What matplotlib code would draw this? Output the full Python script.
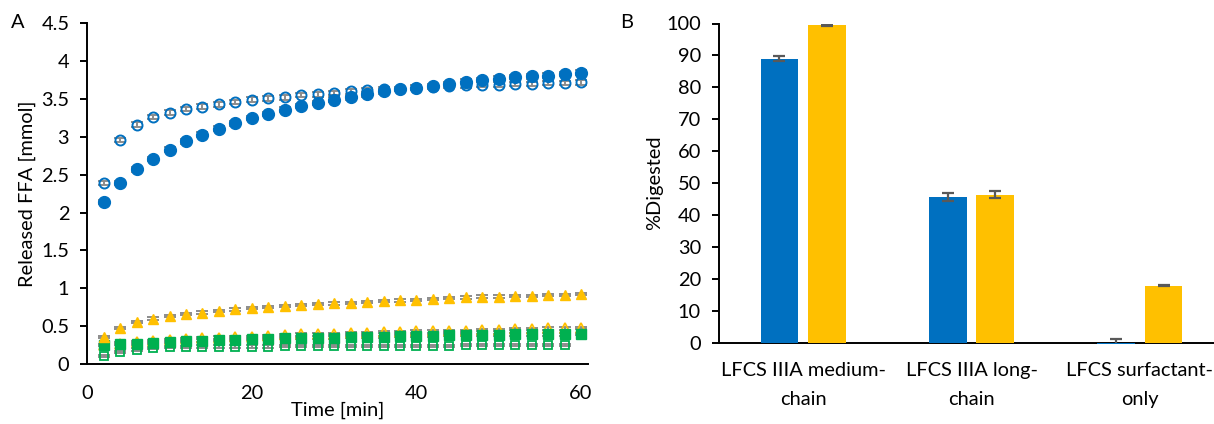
import numpy as np
import matplotlib
matplotlib.use('Agg')
import matplotlib.pyplot as plt

# ------- data, panel A (released FFA vs time)
time = [2, 4, 6, 8, 10, 12, 14, 16, 18, 20, 22, 24, 26, 28, 30,
        32, 34, 36, 38, 40, 42, 44, 46, 48, 50, 52, 54, 56, 58, 60]

mc_filled = [2.14, 2.39, 2.57, 2.71, 2.83, 2.94, 3.03, 3.11, 3.18, 3.25,
             3.30, 3.36, 3.41, 3.45, 3.49, 3.52, 3.56, 3.60, 3.63, 3.65,
             3.67, 3.70, 3.73, 3.75, 3.77, 3.79, 3.80, 3.81, 3.83, 3.85]
mc_open = [2.39, 2.96, 3.16, 3.26, 3.32, 3.37, 3.40, 3.43, 3.46, 3.49,
           3.51, 3.52, 3.55, 3.56, 3.58, 3.60, 3.62, 3.63, 3.63, 3.65,
           3.66, 3.67, 3.68, 3.69, 3.69, 3.70, 3.70, 3.71, 3.71, 3.72]
lc_filled = [0.36, 0.48, 0.55, 0.60, 0.63, 0.66, 0.68, 0.70, 0.72, 0.74,
             0.75, 0.77, 0.78, 0.79, 0.80, 0.81, 0.82, 0.83, 0.84, 0.85,
             0.86, 0.87, 0.88, 0.89, 0.89, 0.90, 0.90, 0.91, 0.91, 0.92]
lc_open = [0.25, 0.27, 0.29, 0.30, 0.32, 0.33, 0.34, 0.35, 0.36, 0.36,
           0.37, 0.38, 0.39, 0.39, 0.40, 0.41, 0.41, 0.42, 0.42, 0.43,
           0.43, 0.44, 0.44, 0.45, 0.45, 0.46, 0.46, 0.47, 0.47, 0.48]
so_filled = [0.25, 0.26, 0.27, 0.28, 0.29, 0.30, 0.31, 0.32, 0.32, 0.33,
             0.33, 0.34, 0.34, 0.35, 0.35, 0.36, 0.36, 0.36, 0.37, 0.37,
             0.37, 0.38, 0.38, 0.38, 0.38, 0.39, 0.39, 0.39, 0.39, 0.40]
so_open = [0.11, 0.16, 0.19, 0.21, 0.22, 0.22, 0.23, 0.23, 0.23, 0.23,
           0.23, 0.24, 0.24, 0.24, 0.24, 0.24, 0.24, 0.24, 0.24, 0.24,
           0.24, 0.24, 0.25, 0.25, 0.25, 0.25, 0.25, 0.25, 0.25]  # ends at 58 min

err_mc = 0.03
err_lc = 0.015
err_so = 0.015

# ------- data, panel B (%digested)
categories = ['LFCS IIIA medium-\nchain', 'LFCS IIIA long-\nchain', 'LFCS surfactant-\nonly']
dig_blue = [89.0, 45.7, -0.4]
dig_blue_err = [0.8, 1.2, 1.5]
dig_yellow = [99.5, 46.3, 17.8]
dig_yellow_err = [0.3, 1.15, 0.2]

# ------- plot appearance
blue = '#0070C0'
yellow = '#FFC000'
green = '#00B050'
grey_err = '#8C8C8C'
dark_err = '#595959'
fs = 14.4

plt.rcParams.update({'font.family': ['Lato', 'DejaVu Sans'],
                     'font.size': fs,
                     'axes.linewidth': 1.4,
                     'ytick.major.width': 1.4,
                     'ytick.major.size': 5})

fig = plt.figure(figsize=(12.14, 4.24), dpi=100)

# ---------panel A
axA = fig.add_axes([87.3/1214, 60/424, 500.7/1214, 340.7/424])

eb = dict(fmt='none', ecolor=grey_err, elinewidth=1.4, capsize=4, capthick=1.4, zorder=2)
axA.errorbar(time, mc_filled, yerr=err_mc, **eb)
axA.errorbar(time, mc_open, yerr=err_mc, **eb)
axA.errorbar(time, lc_filled, yerr=err_lc, **eb)
axA.errorbar(time, lc_open, yerr=err_lc, **eb)
axA.errorbar(time, so_filled, yerr=err_so, **eb)
axA.errorbar(time[:-1], so_open, yerr=err_so, **eb)

axA.plot(time[:-1], so_open, 's', ms=6.3, mfc='none', mec=green, mew=1.3, zorder=3)
axA.plot(time, lc_open, '^', ms=7.5, mfc='none', mec=yellow, mew=1.3, zorder=3)
axA.plot(time, so_filled, 's', ms=6.5, color=green, zorder=4)
axA.plot(time, lc_filled, '^', ms=7.8, color=yellow, zorder=4)
axA.plot(time, mc_open, 'o', ms=7.2, mfc='none', mec=blue, mew=1.4, zorder=4)
axA.plot(time, mc_filled, 'o', ms=8.5, color=blue, zorder=5)

axA.set_xlim(0, 60.85)
axA.set_ylim(0, 4.5)
axA.set_xticks([0, 20, 40, 60])
axA.set_yticks(np.arange(0, 4.51, 0.5))
axA.set_yticklabels(['0', '0.5', '1', '1.5', '2', '2.5', '3', '3.5', '4', '4.5'])
axA.tick_params(axis='x', length=0, pad=15)
axA.tick_params(axis='y', pad=8)
axA.spines['top'].set_visible(False)
axA.spines['right'].set_visible(False)
axA.set_xlabel('Time [min]', labelpad=0)
axA.set_ylabel('Released FFA [mmol]', labelpad=4)

# ---------panel B
axB = fig.add_axes([719/1214, 81.5/424, 505/1214, 319/424])
x = np.arange(len(categories))
bw = 0.223
off = 0.141
axB.bar(x - off, dig_blue, bw, color=blue, clip_on=False, zorder=2)
axB.bar(x + off, dig_yellow, bw, color=yellow, zorder=2)
axB.errorbar(x - off, dig_blue, yerr=dig_blue_err, fmt='none', ecolor=dark_err,
             elinewidth=1.6, capsize=4.5, capthick=1.6, zorder=3)
axB.errorbar(x + off, dig_yellow, yerr=dig_yellow_err, fmt='none', ecolor=dark_err,
             elinewidth=1.6, capsize=4.5, capthick=1.6, zorder=3)

axB.set_xlim(-0.5, 2.5)
axB.set_ylim(0, 100)
axB.set_yticks(np.arange(0, 101, 10))
axB.set_xticks(x)
axB.set_xticklabels(categories, linespacing=1.85)
axB.tick_params(axis='x', length=0, pad=14)
axB.tick_params(axis='y', pad=8)
axB.spines['top'].set_visible(False)
axB.spines['right'].set_visible(False)
axB.spines['bottom'].set_zorder(1)
axB.set_ylabel('%Digested', labelpad=2)

# ---------panel letters
fig.text(18/1214, 1 - 22/424, 'A', ha='center', va='center', fontsize=fs)
fig.text(627/1214, 1 - 22/424, 'B', ha='center', va='center', fontsize=fs)

plt.savefig('out.png', dpi=100)
